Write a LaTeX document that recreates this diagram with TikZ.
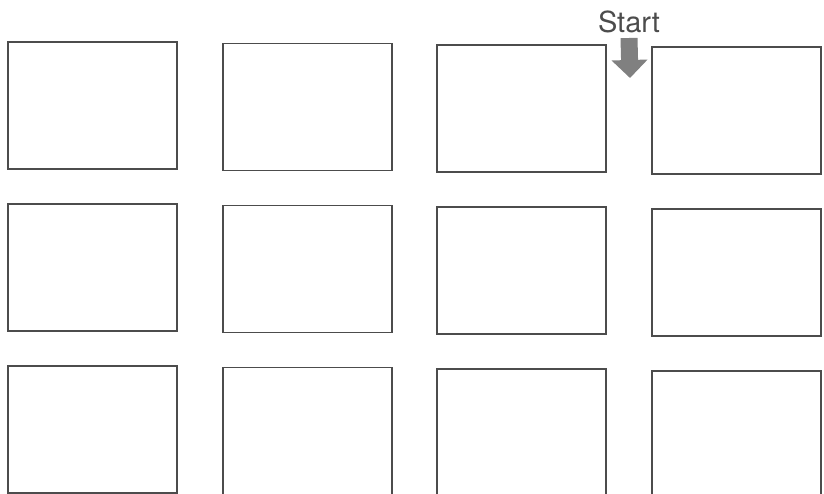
\documentclass[tikz,border=0pt]{standalone}
\usepackage{fontspec}
\setmainfont{TeX Gyre Heros}
\usetikzlibrary{arrows.meta}
\definecolor{framegray}{gray}{0.3}
\definecolor{arrowgray}{gray}{0.5}
\tikzset{
  panel/.style={draw=framegray, line width=1.8pt, minimum width=169pt, minimum height=127pt, inner sep=0pt},
  startarrow/.style={draw=arrowgray, line width=17pt, -{Triangle[width=35pt, length=18pt]}}
}
\begin{document}
\begin{tikzpicture}[x=1pt, y=-1pt]
  \useasboundingbox (0,0) rectangle (824,493);
  % grid of panels, three rows by four columns
  \foreach \c/\x/\y in {1/92.5/105.5, 2/307.5/107, 3/521.5/108.5, 4/736.5/110.5}
    \foreach \r in {0,1,2}
      \node[panel] (box-\r-\c) at (\x,\y+\r*162) {};
  % start marker
  \node[anchor=south, inner sep=0pt, text=framegray, font=\fontsize{29}{31}\selectfont] (start) at (629,33) {Start};
  \coordinate (starttip) at (630,78);
  \draw[startarrow] ([yshift=-5pt]start.south) -- (starttip);
\end{tikzpicture}
\end{document}
